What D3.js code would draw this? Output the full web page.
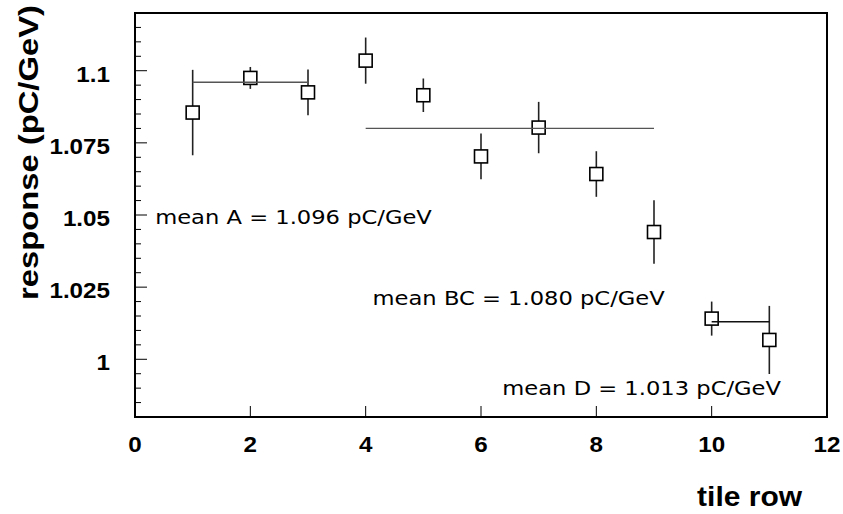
<!DOCTYPE html>
<html>
<head>
<meta charset="utf-8">
<script src="https://cdn.jsdelivr.net/npm/d3@7"></script>
<style>
  body { margin: 0; background: #fff; }
  .tick-label { font-family: "Liberation Sans", Arial, sans-serif; font-weight: bold; }
  .mean-label { font-family: "DejaVu Sans", sans-serif; }
</style>
</head>
<body>
<div id="chart-container"></div>
<script>
//data
var tileRows = [1, 2, 3, 4, 5, 6, 7, 8, 9, 10, 11],
    responses = [1.0855, 1.0975, 1.0925, 1.1035, 1.0915, 1.0703, 1.0803, 1.0642, 1.0441, 1.0141, 1.0067],
    responseErrors = [0.0148, 0.0038, 0.0079, 0.0080, 0.0058, 0.0079, 0.0089, 0.0079, 0.0110, 0.0059, 0.0118];

//group means
var meanNames = ['A', 'BC', 'D'],
    meanValues = [1.096, 1.080, 1.013],
    meanFrom = [1, 4, 10],
    meanTo = [3, 9, 11];

//axes
var xTicks = [0, 2, 4, 6, 8, 10, 12],
    yTicks = [1, 1.025, 1.05, 1.075, 1.1],
    yTickLabels = ['1', '1.025', '1.05', '1.075', '1.1'];

//sizes
var outerW = 843,
    outerH = 514,
    margin = {left: 135, right: 16, top: 13, bottom: 97},
    w = outerW - margin.left - margin.right,
    h = outerH - margin.top - margin.bottom;

var xScale = d3.scaleLinear().domain([0, 12]).range([0, w]),
    yScale = d3.scaleLinear().domain([0.98, 1.12]).range([h, 0]);

var svg = d3.select('#chart-container').append('svg')
    .attr('width', outerW)
    .attr('height', outerH);

var g = svg.append('g')
    .attr('transform', 'translate(' + margin.left + ', ' + margin.top + ')');

// the original text is drawn a bit wider than these fonts
function stretch(sel, factor) {
    sel.each(function() {
        var len = this.getComputedTextLength();
        d3.select(this)
            .attr('textLength', len * factor)
            .attr('lengthAdjust', 'spacingAndGlyphs');
    });
}

// y minor + major ticks
var yMinor = d3.range(0, 27).map(function(i) { return +(0.985 + i * 0.005).toFixed(3); });
g.selectAll('.y-tick')
    .data(yMinor)
    .enter()
    .append('line')
    .attr('x1', 0)
    .attr('x2', function(d) {
        var isMajor = Math.abs((d - 1) / 0.025 - Math.round((d - 1) / 0.025)) < 1e-6;
        return isMajor ? 12 : 6;
    })
    .attr('y1', function(d) { return yScale(d); })
    .attr('y2', function(d) { return yScale(d); })
    .attr('stroke', '#000')
    .attr('stroke-width', 1);

g.selectAll('.y-label')
    .data(yTicks)
    .enter()
    .append('text')
    .attr('class', 'tick-label')
    .attr('x', -25)
    .attr('y', function(d) { return yScale(d) + 11; })
    .attr('text-anchor', 'end')
    .attr('font-size', 22)
    .text(function(d, i) { return yTickLabels[i]; })
    .call(stretch, 1.1);

// x ticks
g.selectAll('.x-tick')
    .data(xTicks.slice(1, -1))
    .enter()
    .append('line')
    .attr('x1', function(d) { return xScale(d); })
    .attr('x2', function(d) { return xScale(d); })
    .attr('y1', h)
    .attr('y2', h - 11)
    .attr('stroke', '#000')
    .attr('stroke-width', 1);

g.selectAll('.x-label')
    .data(xTicks)
    .enter()
    .append('text')
    .attr('class', 'tick-label')
    .attr('x', function(d) { return xScale(d); })
    .attr('y', h + 35)
    .attr('text-anchor', 'middle')
    .attr('font-size', 22)
    .text(function(d) { return d; })
    .call(stretch, 1.1);

// frame
g.append('rect')
    .attr('x', 0)
    .attr('y', 0)
    .attr('width', w)
    .attr('height', h)
    .attr('fill', 'none')
    .attr('stroke', '#000')
    .attr('stroke-width', 2);

// error bars
g.selectAll('.err-bar')
    .data(tileRows)
    .enter()
    .append('line')
    .attr('x1', function(d) { return xScale(d); })
    .attr('x2', function(d) { return xScale(d); })
    .attr('y1', function(d, i) { return yScale(responses[i] + responseErrors[i]); })
    .attr('y2', function(d, i) { return yScale(responses[i] - responseErrors[i]); })
    .attr('stroke', '#222')
    .attr('stroke-width', 1.6);

// markers
var boxSize = 13;
g.selectAll('.marker')
    .data(tileRows)
    .enter()
    .append('rect')
    .attr('x', function(d) { return xScale(d) - boxSize / 2; })
    .attr('y', function(d, i) { return yScale(responses[i]) - boxSize / 2; })
    .attr('width', boxSize)
    .attr('height', boxSize)
    .attr('fill', '#fff')
    .attr('stroke', '#000')
    .attr('stroke-width', 1.6);

// mean lines
g.selectAll('.mean-line')
    .data(meanValues)
    .enter()
    .append('line')
    .attr('x1', function(d, i) { return xScale(meanFrom[i]); })
    .attr('x2', function(d, i) { return xScale(meanTo[i]); })
    .attr('y1', function(d) { return yScale(d); })
    .attr('y2', function(d) { return yScale(d); })
    .attr('stroke', function(d, i) { return i == 2 ? '#111' : '#555'; })
    .attr('stroke-width', 1.3);

// mean annotations (position in data units)
var labelX = [0.35, 4.12, 6.37],
    labelY = [1.0468, 1.0188, 0.9875];
g.selectAll('.mean-label')
    .data(meanValues)
    .enter()
    .append('text')
    .attr('class', 'mean-label')
    .attr('x', function(d, i) { return xScale(labelX[i]); })
    .attr('y', function(d, i) { return yScale(labelY[i]); })
    .attr('font-size', 19)
    .attr('fill', '#000')
    .text(function(d, i) { return 'mean ' + meanNames[i] + ' = ' + d.toFixed(3) + ' pC/GeV'; })
    .call(stretch, 1.19);

// axis titles
svg.append('text')
    .attr('class', 'tick-label')
    .attr('x', 802)
    .attr('y', 506)
    .attr('text-anchor', 'end')
    .attr('font-size', 28)
    .text('tile row')
    .call(stretch, 1.07);

svg.append('text')
    .attr('class', 'tick-label')
    .attr('transform', 'translate(38, 300) rotate(-90)')
    .attr('text-anchor', 'start')
    .attr('font-size', 28)
    .text('response (pC/GeV)')
    .call(stretch, 1.17);
</script>
</body>
</html>
